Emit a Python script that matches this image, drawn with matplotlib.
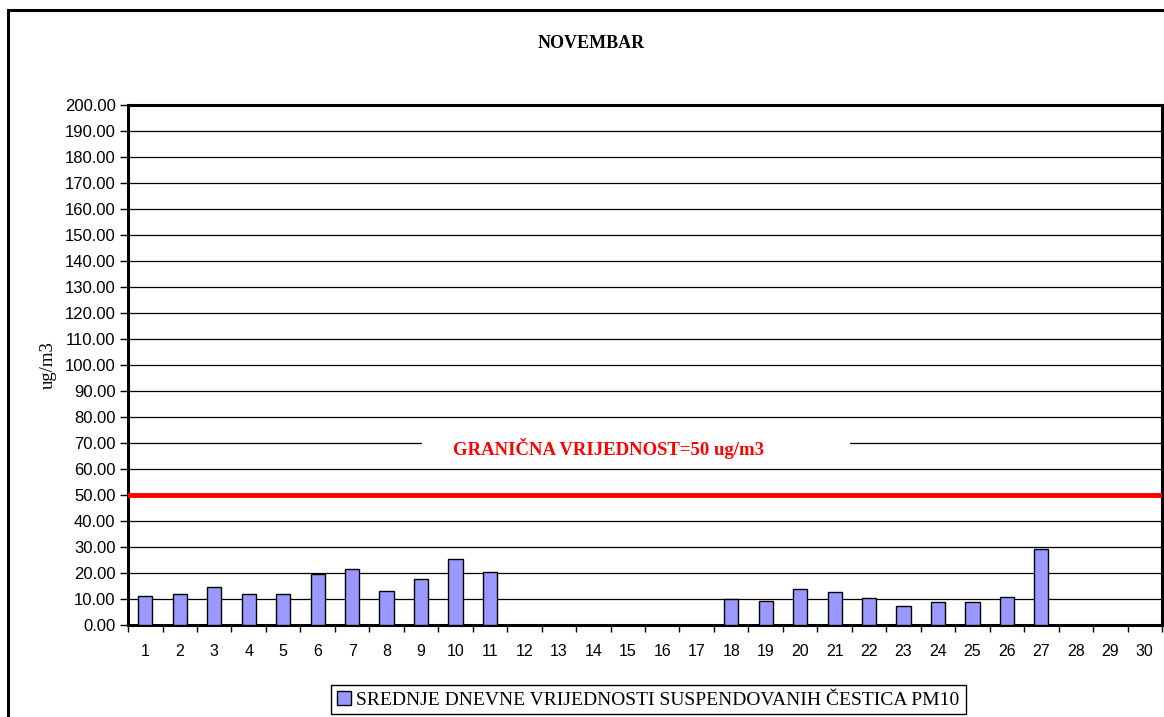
# PM10 daily averages, November
import numpy as np
import matplotlib.pyplot as plt
from matplotlib.patches import Rectangle

days = np.arange(1, 31)
pm10 = [11.0, 12.0, 14.7, 12.0, 12.0, 19.5, 21.7, 13.0, 17.6, 25.3, 20.3,
        0, 0, 0, 0, 0, 0,
        10.0, 9.2, 13.7, 12.8, 10.5, 7.3, 8.7, 8.7, 10.9, 29.1,
        0, 0, 0]
limit = 50
yticks = np.arange(0, 201, 10)

fig = plt.figure(figsize=(11.64, 7.17), dpi=100)
ax = fig.add_axes([0.110, 0.1283, 0.8883, 0.7253])

# outer frame of the chart
fig.patches.append(Rectangle((0.007, -0.1), 1.1, 1.086, transform=fig.transFigure,
                             fill=False, edgecolor='black', linewidth=2.2))

for y in yticks[1:-1]:
    ax.axhline(y, color='black', linewidth=0.9, zorder=1)

# white box behind the limit label
ax.add_patch(Rectangle((9.03, 66), 12.42, 8, facecolor='white', edgecolor='none', zorder=2))
ax.text(14.45, 67.7, 'GRANIČNA VRIJEDNOST=50 ug/m3', color='red', fontsize=13.5,
        fontweight='bold', family='Liberation Serif', ha='center', va='center', zorder=3)

mask = np.array(pm10) > 0
ax.bar(days[mask], np.array(pm10)[mask], width=0.41, color='#9999FF', edgecolor='black',
       linewidth=1.0, zorder=3, label='SREDNJE DNEVNE VRIJEDNOSTI SUSPENDOVANIH ČESTICA PM10')
ax.axhline(limit, color='red', linewidth=3.5, zorder=4)

ax.set_xlim(0.5, 30.5)
ax.set_ylim(0, 200)
ax.set_yticks(yticks)
ax.set_yticklabels(['%.2f' % v for v in yticks], family='Liberation Sans', fontsize=12)
ax.set_xticks(days)
ax.set_xticklabels([str(d) for d in days], family='Liberation Sans', fontsize=11.5)
ax.set_xticks(np.arange(0.5, 31, 1), minor=True)
ax.tick_params(axis='x', which='major', length=0, pad=14)
ax.tick_params(axis='x', which='minor', length=5, width=1, direction='out')
ax.tick_params(axis='y', length=6, width=1, direction='out', pad=3)
for s in ax.spines.values():
    s.set_linewidth(2.2)

ax.set_ylabel('ug/m3', family='Liberation Serif', fontsize=13.5, labelpad=6)
fig.text(0.508, 0.94, 'NOVEMBAR', family='Liberation Serif', fontsize=13,
         fontweight='bold', ha='center', va='center')

leg = fig.legend(loc='center', bbox_to_anchor=(0.557, 0.024), prop={'family': 'Liberation Serif', 'size': 14},
                 fancybox=False, edgecolor='black', framealpha=1, handlelength=0.7, handleheight=0.7,
                 handletextpad=0.3, borderpad=0.3)
leg.get_frame().set_linewidth(1.0)

fig.savefig('out.png', dpi=100)
